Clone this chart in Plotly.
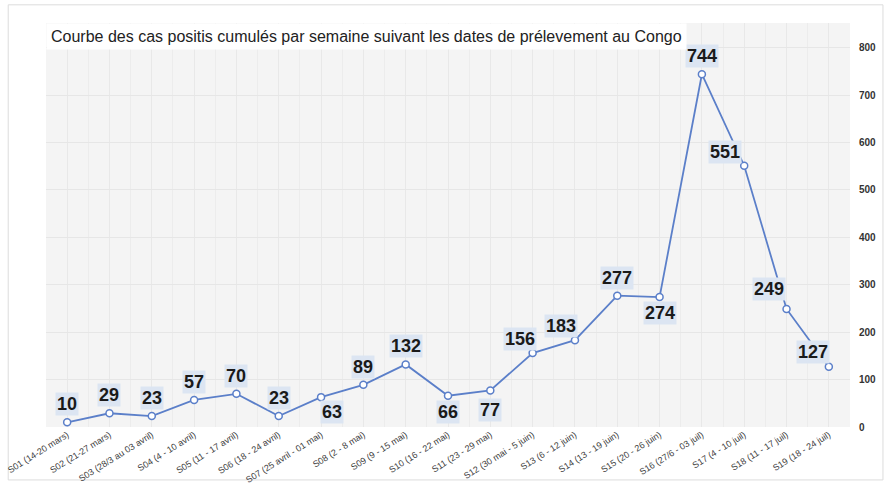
import plotly.graph_objects as go

categories = [
    "S01 (14-20 mars)", "S02 (21-27 mars)", "S03 (28/3 au 03 avril)", "S04 (4 - 10 avril)",
    "S05 (11 - 17 avril)", "S06 (18 - 24 avril)", "S07 (25 avril - 01 mai)", "S08 (2 - 8 mai)",
    "S09 (9 - 15 mai)", "S10 (16 - 22 mai)", "S11 (23 - 29 mai)", "S12 (30 mai - 5 juin)",
    "S13 (6 - 12 juin)", "S14 (13 - 19 juin)", "S15 (20 - 26 juin)", "S16 (27/6 - 03 juil)",
    "S17 (4 - 10 juil)", "S18 (11 - 17 juil)", "S19 (18 - 24 juil)",
]
cases = [10, 29, 23, 57, 70, 23, 63, 89, 132, 66, 77, 156, 183, 277, 274, 744, 551, 249, 127]
y_ticks = [0, 100, 200, 300, 400, 500, 600, 700, 800]

title_text = "Courbe des cas positis cumulés par semaine suivant les dates de prélevement au Congo"

# label offsets in pixels (style only)
label_shift = [
    (0, 18), (0, 18), (0, 18), (0, 18), (0, 18), (0, 18), (11, -15), (0, 18),
    (0, 18), (0, -16), (0, -20), (-13, 14), (-14, 14), (0, 18), (0, -16), (0, 18),
    (-19, 14), (-18, 20), (-16, 15),
]

xs = list(range(len(categories)))
FONT = "Liberation Sans, Arial, sans-serif"

fig = go.Figure()
fig.add_trace(go.Scatter(
    x=xs, y=cases, mode="lines+markers",
    line=dict(color="#5b7fc9", width=1.8),
    marker=dict(symbol="circle", size=7, color="white", line=dict(color="#5b7fc9", width=1.5)),
    hoverinfo="x+y", showlegend=False,
))

annotations = []
for xi, v, (dx, dy) in zip(xs, cases, label_shift):
    annotations.append(dict(
        x=xi, y=v, xref="x", yref="y", text=f"<b>{v}</b>", showarrow=False,
        xshift=dx, yshift=dy, font=dict(family=FONT, size=18, color="#1a1a1a"),
        bgcolor="#dce5f2", borderpad=1,
    ))
annotations.append(dict(
    x=0, y=1, xref="paper", yref="paper", xanchor="left", yanchor="top",
    text=title_text, showarrow=False, bgcolor="white", borderpad=4,
    font=dict(family=FONT, size=16, color="#222222"),
))

fig.update_layout(
    width=891, height=485,
    margin=dict(l=46, r=41, t=23, b=58, autoexpand=False),
    paper_bgcolor="white", plot_bgcolor="#f4f4f4",
    font=dict(family=FONT),
    annotations=annotations,
    shapes=[dict(type="rect", xref="paper", yref="paper", x0=-0.047, x1=1.041, y0=-0.131, y1=1.045,
                 line=dict(color="#dcdcdc", width=1), fillcolor="rgba(0,0,0,0)", layer="below")],
)
fig.update_xaxes(
    range=[-0.5, len(categories) - 0.5], automargin=False,
    tickmode="array", tickvals=xs, ticktext=categories, tickangle=-32,
    tickfont=dict(family=FONT, size=9, color="#404040"),
    ticklabeloverflow="allow",
    showgrid=True, gridcolor="#e8e8e8", gridwidth=1,
    minor=dict(dtick=0.5, tick0=0.5, showgrid=True, gridcolor="#ececec"),
    zeroline=False, showline=False, ticks="",
)
fig.update_yaxes(
    side="right", range=[0, 852], tickmode="array", tickvals=y_ticks, automargin=False,
    tickfont=dict(family=FONT, size=10, color="#333333", weight="bold"),
    ticklabelstandoff=8,
    showgrid=True, gridcolor="#e6e6e6", zeroline=False, showline=False, ticks="",
)

fig.write_html(
    "out.html",
    config={"displayModeBar": False},
    post_script="document.body.style.margin='0';document.body.style.overflow='hidden';",
)
